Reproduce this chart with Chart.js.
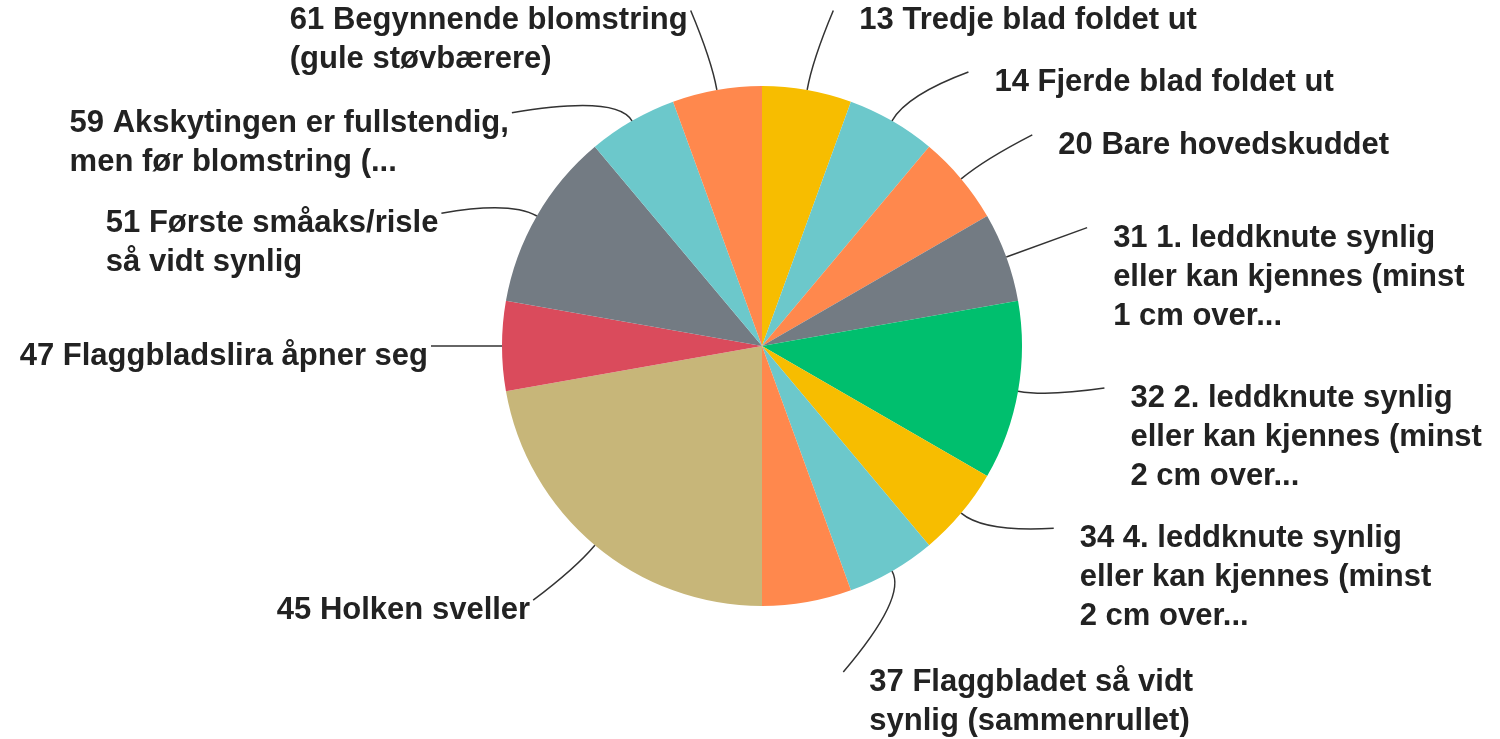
<!DOCTYPE html>
<html>
<head>
<meta charset="utf-8">
<script src="https://cdn.jsdelivr.net/npm/chart.js@4.4.1/dist/chart.umd.min.js"></script>
<style>
  html, body { margin: 0; padding: 0; background: #fff; }
  #wrap { width: 1500px; height: 739px; }
</style>
</head>
<body>
<div id="wrap"><canvas id="pieChart"></canvas></div>
<script>
// ====== DATA ======
// clockwise from 12 o'clock; one slice has no visible label in the original
const categories = [
  "13 Tredje blad foldet ut",
  "14 Fjerde blad foldet ut",
  "20 Bare hovedskuddet",
  "31 1. leddknute synlig\neller kan kjennes (minst\n1 cm over...",
  "32 2. leddknute synlig\neller kan kjennes (minst\n2 cm over...",
  "34 4. leddknute synlig\neller kan kjennes (minst\n2 cm over...",
  "37 Flaggbladet så vidt\nsynlig (sammenrullet)",
  "",
  "45 Holken sveller",
  "47 Flaggbladslira åpner seg",
  "51 Første småaks/risle\nså vidt synlig",
  "59 Akskytingen er fullstendig,\nmen før blomstring (...",
  "61 Begynnende blomstring\n(gule støvbærere)"
];
const counts = [1, 1, 1, 1, 2, 1, 1, 1, 4, 1, 2, 1, 1];

// ====== STYLE / LAYOUT ======
const colors = [
  "#F7BD00", "#6CC8CB", "#FF884D", "#737B83", "#00BF6E", "#F7BD00", "#6CC8CB",
  "#FF884D", "#C7B679", "#DA4B5C", "#737B83", "#6CC8CB", "#FF884D"
];
// label anchor: angle nudge (deg) from slice middle, and radius of leader end
const labelNudge = [2, 7, 2, 0, -3, -8, 16, 0, 2, 0, -7.5, -17, -2];
const labelRadius = [343, 343, 343, 346, 345, 344, 336, 343, 342, 331, 347, 342, 343];
const FONT = 'bold 31px "Liberation Sans", Arial, sans-serif';
const LINE_H = 39;

const outLabels = {
  id: "outLabels",
  afterDraw(chart) {
    const ctx = chart.ctx;
    const meta = chart.getDatasetMeta(0);
    ctx.save();
    ctx.font = FONT;
    ctx.textBaseline = "alphabetic";
    ctx.textAlign = "left";
    meta.data.forEach((arc, i) => {
      const text = categories[i];
      if (!text) return;
      const mid = (arc.startAngle + arc.endAngle) / 2;
      const r = arc.outerRadius;
      const a = mid + labelNudge[i] * Math.PI / 180;
      const p0 = { x: arc.x + r * Math.cos(mid), y: arc.y + r * Math.sin(mid) };
      const p1 = { x: arc.x + (r + 30) * Math.cos(mid), y: arc.y + (r + 30) * Math.sin(mid) };
      const end = { x: arc.x + labelRadius[i] * Math.cos(a), y: arc.y + labelRadius[i] * Math.sin(a) };

      // curved leader: leaves the slice radially, bends toward the label
      ctx.strokeStyle = "#333";
      ctx.lineWidth = 1.5;
      ctx.beginPath();
      ctx.moveTo(p0.x, p0.y);
      ctx.quadraticCurveTo(p1.x, p1.y, end.x, end.y);
      ctx.stroke();

      const lines = text.split("\n");
      const right = Math.cos(a) >= 0;
      const w = Math.max(...lines.map(l => ctx.measureText(l).width));
      const x0 = right ? end.x + 26 : end.x - 3 - w;
      ctx.fillStyle = "#222";
      lines.forEach((l, k) => ctx.fillText(l, x0, end.y + 19 + k * LINE_H));
    });
    ctx.restore();
  }
};

new Chart(document.getElementById("pieChart"), {
  type: "pie",
  data: {
    labels: categories,
    datasets: [{ data: counts, backgroundColor: colors, borderWidth: 0 }]
  },
  options: {
    responsive: true,
    maintainAspectRatio: false,
    animation: false,
    layout: { padding: { top: 86, bottom: 133, left: 502, right: 478 } },
    plugins: { legend: { display: false }, tooltip: { enabled: false } }
  },
  plugins: [outLabels]
});
</script>
</body>
</html>
